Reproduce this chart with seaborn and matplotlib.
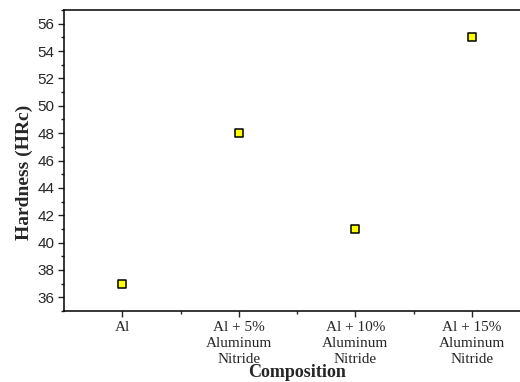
import pandas as pd
import seaborn as sns
from matplotlib import pyplot as plt
from matplotlib.ticker import MultipleLocator

compositions = ['Al', 'Al + 5%\nAluminum\nNitride', 'Al + 10%\nAluminum\nNitride',
                'Al + 15%\nAluminum\nNitride']
hardness = [37, 48, 41, 55]

df = pd.DataFrame({'composition': compositions, 'hardness': hardness})

sns.set_style('ticks')
plt.rcParams['font.family'] = ['Liberation Sans', 'DejaVu Sans']

fig = plt.figure(figsize=(5.2, 3.82), dpi=100)
ax = fig.add_axes([64 / 520, 71 / 382, 466 / 520, 301 / 382])

sns.scatterplot(data=df, x='composition', y='hardness', marker='s', s=36,
                color='#ffff00', edgecolor='black', linewidth=1.1, ax=ax, zorder=3)

ax.set_xlim(-0.5, 3.5)
ax.set_ylim(35, 57)
ax.yaxis.set_minor_locator(MultipleLocator(1))
ax.set_yticks(range(36, 57, 2))
ax.set_xticks(range(4))
ax.set_xticks([0.5, 1.5, 2.5], minor=True)
ax.set_xticklabels(compositions, family='Liberation Serif', fontsize=11,
                   linespacing=1.3)
ax.tick_params(axis='y', labelsize=11, length=4, width=1, pad=3)
ax.tick_params(axis='x', length=4, width=1, pad=3)
ax.tick_params(which='minor', length=2.5, width=1)

for side in ['left', 'bottom', 'top']:
    ax.spines[side].set_linewidth(1.1)
    ax.spines[side].set_color('black')
ax.spines['right'].set_visible(False)

ax.set_xlabel('Composition', family='Liberation Serif', fontweight='bold',
              fontsize=13, labelpad=-1)
ax.set_ylabel('Hardness (HRc)', family='Liberation Serif', fontweight='bold',
              fontsize=14, labelpad=3, y=0.46)

plt.savefig('out.png', dpi=100)
